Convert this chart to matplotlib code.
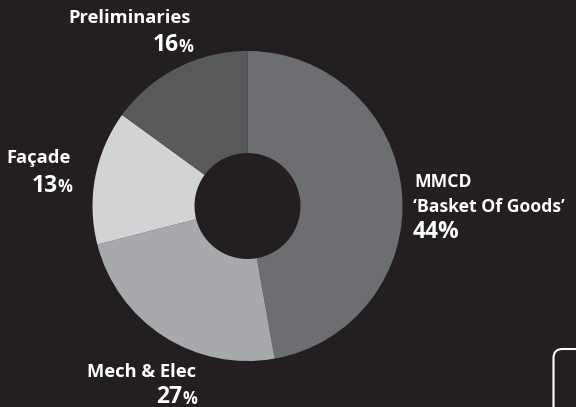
import matplotlib
matplotlib.use("Agg")
import matplotlib.pyplot as plt
from matplotlib.patches import FancyBboxPatch

# Data (wedge sizes as drawn; label texts as printed)
categories = ["MMCD\n\u2018Basket Of Goods\u2019", "Mech & Elec", "Fa\u00e7ade", "Preliminaries"]
wedge_values = [47.2, 23.8, 14.0, 15.0]
pct_numbers = ["44", "27", "13", "16"]
colors = ["#6d6e71", "#a7a9ac", "#d1d3d4", "#58595b"]

BG = "#231f20"
W, H = 576, 407
fig = plt.figure(figsize=(W / 100, H / 100), dpi=100, facecolor=BG)
ax = fig.add_axes([0, 0, 1, 1])
ax.set_facecolor(BG)

cx, cy, R = 247.5, H - 206, 155
ax.pie(wedge_values, colors=colors, startangle=90, counterclock=False,
       center=(cx, cy), radius=R, wedgeprops=dict(width=R - 53, linewidth=0),
       frame=True)
ax.set_xlim(0, W)
ax.set_ylim(0, H)
ax.set_aspect("equal")
ax.axis("off")

font = "Open Sans"
tkw = dict(color="white", fontweight="bold", family=font)
LBL = 13.2
NUM = 16.5
PCT = 12


def Y(y):
    return H - y


def pct_label(x_right, y_base, number):
    p = ax.text(x_right, Y(y_base), "%", ha="right", va="baseline", fontsize=PCT, **tkw)
    ax.annotate(number, xy=(0, 0), xycoords=p, xytext=(0.3, -0.9),
                textcoords="offset points", ha="right", va="bottom",
                fontsize=NUM, **tkw)


# Preliminaries
ax.text(191, Y(23), categories[3], ha="right", va="baseline", fontsize=LBL, **tkw)
pct_label(193, 51.5, pct_numbers[3])

# Facade
ax.text(71, Y(163), categories[2], ha="right", va="baseline", fontsize=LBL, **tkw)
pct_label(72, 192.5, pct_numbers[2])

# MMCD
ax.text(414, Y(187), "MMCD", ha="left", va="baseline", fontsize=LBL * 0.96, **tkw)
ax.text(413, Y(212), "\u2018Basket Of Goods\u2019", ha="left", va="baseline",
        fontsize=LBL * 0.96, **tkw)
ax.text(413, Y(238.5), pct_numbers[0] + "%", ha="left", va="baseline", fontsize=NUM, **tkw)

# Mech & Elec
ax.text(196, Y(377), categories[1], ha="right", va="baseline", fontsize=LBL, **tkw)
pct_label(197, 403.5, pct_numbers[1])

# Rounded box outline at bottom right (partially off-canvas)
box = FancyBboxPatch((553.5, Y(349) - 120), 100, 120,
                     boxstyle="round,pad=0,rounding_size=9",
                     fill=False, edgecolor="white", linewidth=1.5, clip_on=True)
ax.add_patch(box)

fig.savefig("out.png", dpi=100, facecolor=BG)
